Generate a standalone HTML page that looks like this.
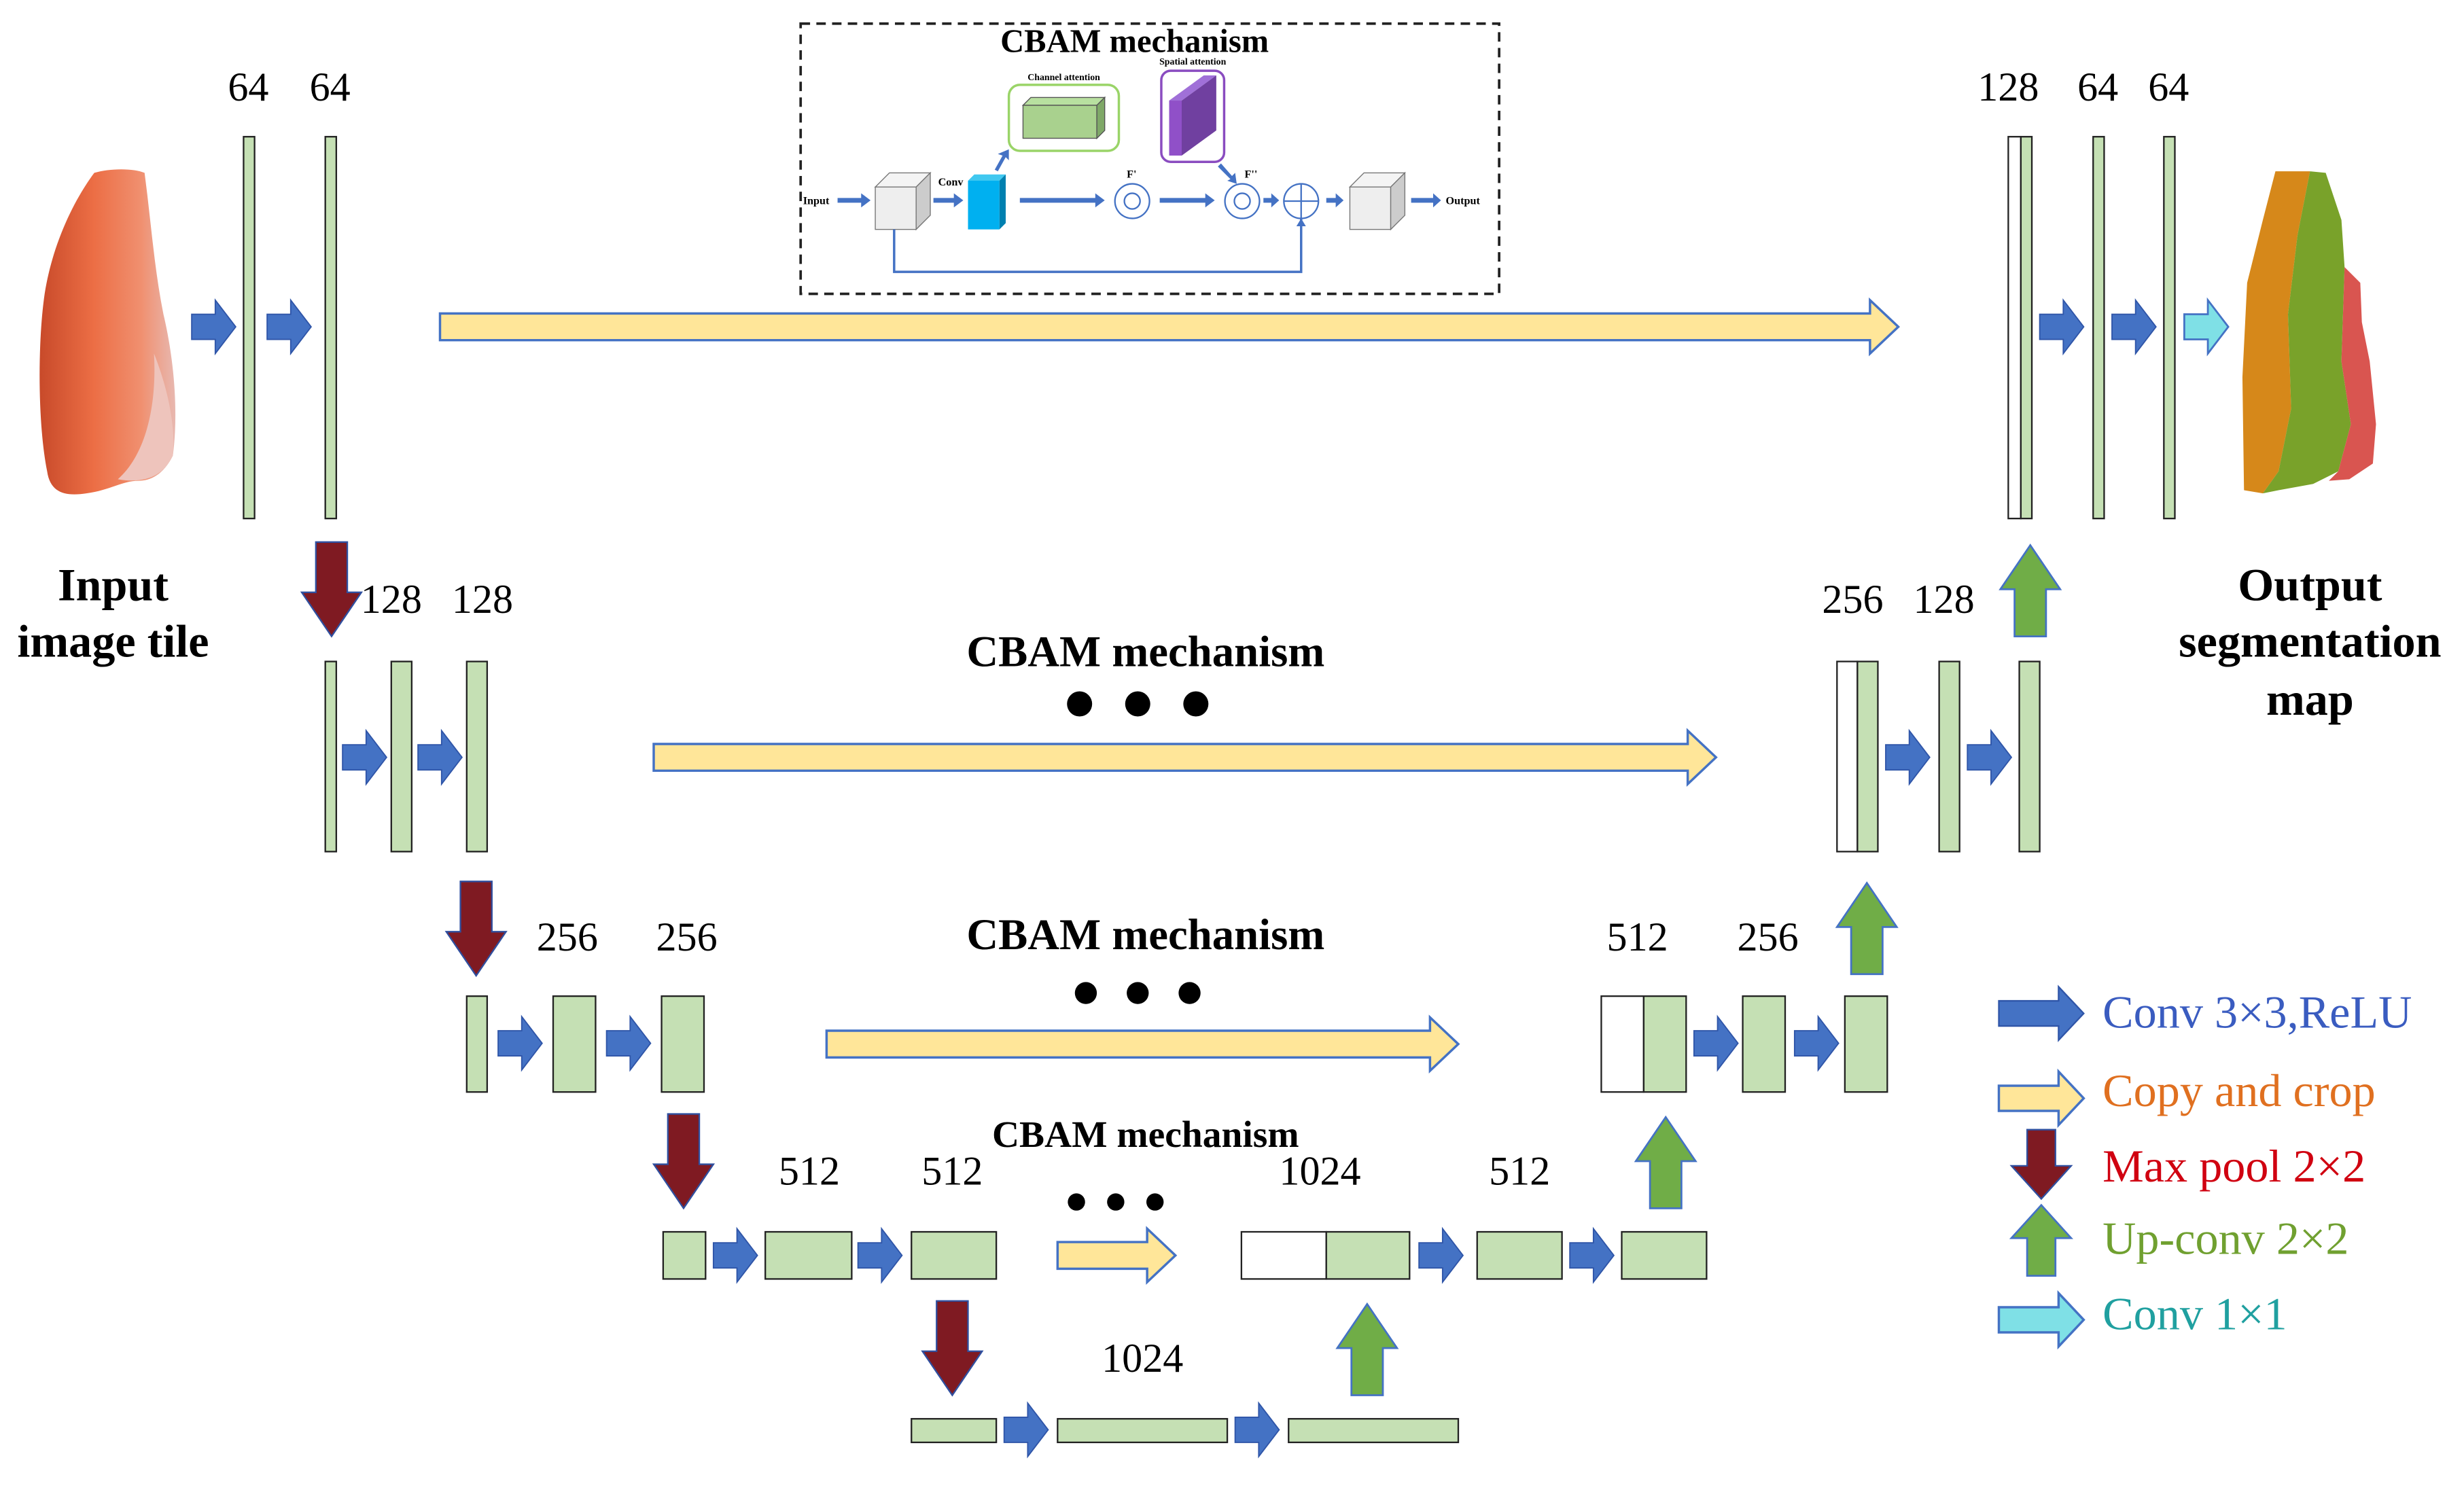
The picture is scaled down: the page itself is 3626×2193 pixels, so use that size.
<!DOCTYPE html>
<html><head><meta charset="utf-8"><style>
html,body{margin:0;padding:0;background:#fff;}
svg{display:block;}
text{font-family:"Liberation Serif",serif;}
</style></head><body>
<svg width="3626" height="2193" viewBox="0 0 1568 948.3" xmlns="http://www.w3.org/2000/svg">
<defs>
<path id="ba" d="M0,-8 H15 V-17 L28,0 L15,17 V8 H0Z" fill="#4472c4" stroke="#2f55a8" stroke-width="0.8"/>
<path id="ca" d="M0,-8 H15 V-17 L28,0 L15,17 V8 H0Z" fill="#7fe0e6" stroke="#4472c4" stroke-width="1.2"/>
<path id="da" d="M-10,0 V32 H-19 L0,60 L19,32 H10 V0Z" fill="#7f1a22" stroke="#2f4f9f" stroke-width="1"/>
<path id="ua" d="M-10,58 V28 H-19 L0,0 L19,28 H10 V58Z" fill="#70ad47" stroke="#4472c4" stroke-width="1.2"/>
<linearGradient id="salmon" x1="0" x2="1" y1="0" y2="0">
<stop offset="0" stop-color="#c84a2a"/><stop offset="0.4" stop-color="#ec6e45"/><stop offset="0.75" stop-color="#f09070"/><stop offset="1" stop-color="#e8b8b0"/>
</linearGradient>
</defs>
<g fill="#c5e0b4" stroke="#222" stroke-width="1">
<rect x="155" y="87" width="7" height="243"/><rect x="207" y="87" width="7" height="243"/>
<rect x="1278" y="87" width="8" height="243" fill="#fff"/><rect x="1286" y="87" width="7" height="243"/>
<rect x="1332" y="87" width="7" height="243"/><rect x="1377" y="87" width="7" height="243"/>
<rect x="207" y="421" width="7" height="121"/><rect x="249" y="421" width="13" height="121"/><rect x="297" y="421" width="13" height="121"/>
<rect x="1169" y="421" width="13" height="121" fill="#fff"/><rect x="1182" y="421" width="13" height="121"/>
<rect x="1234" y="421" width="13" height="121"/><rect x="1285" y="421" width="13" height="121"/>
<rect x="297" y="634" width="13" height="61"/><rect x="352" y="634" width="27" height="61"/><rect x="421" y="634" width="27" height="61"/>
<rect x="1019" y="634" width="27" height="61" fill="#fff"/><rect x="1046" y="634" width="27" height="61"/>
<rect x="1109" y="634" width="27" height="61"/><rect x="1174" y="634" width="27" height="61"/>
<rect x="422" y="784" width="27" height="30"/><rect x="487" y="784" width="55" height="30"/><rect x="580" y="784" width="54" height="30"/>
<rect x="790" y="784" width="54" height="30" fill="#fff"/><rect x="844" y="784" width="53" height="30"/>
<rect x="940" y="784" width="54" height="30"/><rect x="1032" y="784" width="54" height="30"/>
<rect x="580" y="903" width="54" height="15"/><rect x="673" y="903" width="108" height="15"/><rect x="820" y="903" width="108" height="15"/>
</g>
<use href="#ba" x="122" y="208"/><use href="#ba" x="170" y="208"/>
<use href="#ba" x="1298" y="208"/><use href="#ba" x="1344" y="208"/>
<use href="#ca" x="1390" y="208"/>
<use href="#ba" x="218" y="482"/><use href="#ba" x="266" y="482"/>
<use href="#ba" x="1200" y="482"/><use href="#ba" x="1252" y="482"/>
<use href="#ba" x="317" y="664"/><use href="#ba" x="386" y="664"/>
<use href="#ba" x="1078" y="664"/><use href="#ba" x="1142" y="664"/>
<use href="#ba" x="454" y="799"/><use href="#ba" x="546" y="799"/>
<use href="#ba" x="903" y="799"/><use href="#ba" x="999" y="799"/>
<use href="#ba" x="639" y="910"/><use href="#ba" x="786" y="910"/>
<use href="#da" x="211" y="345"/><use href="#da" x="303" y="561"/><use href="#da" x="435" y="709"/><use href="#da" x="606" y="828"/>
<use href="#ua" x="1292" y="347"/><use href="#ua" x="1188" y="562"/><use href="#ua" x="1060" y="711"/><use href="#ua" x="870" y="830"/>
<g fill="#ffe699" stroke="#4472c4" stroke-width="1.5">
<path d="M280,199.5 H1190 V191 L1208,208 L1190,225 V216.5 H280Z"/>
<path d="M416,473.5 H1074 V465 L1092,482 L1074,499 V490.5 H416Z"/>
<path d="M526,656 H910 V647.5 L928,664.5 L910,681.5 V673 H526Z"/>
<path d="M673,790.5 H730 V782 L748,799 L730,816 V807.5 H673Z"/>
</g>
<g font-size="26" text-anchor="middle" fill="#000">
<text x="158" y="64">64</text><text x="210" y="64">64</text>
<text x="1278" y="64">128</text><text x="1335" y="64">64</text><text x="1380" y="64">64</text>
<text x="249" y="390">128</text><text x="307" y="390">128</text>
<text x="1179" y="390">256</text><text x="1237" y="390">128</text>
<text x="361" y="605">256</text><text x="437" y="605">256</text>
<text x="1042" y="605">512</text><text x="1125" y="605">256</text>
<text x="515" y="754">512</text><text x="606" y="754">512</text>
<text x="840" y="754">1024</text><text x="967" y="754">512</text>
<text x="727" y="873">1024</text>
</g>
<g font-size="29.5" font-weight="bold" text-anchor="middle" fill="#000">
<text x="72" y="382">Input</text><text x="72" y="418">image tile</text>
<text x="1470" y="382">Output</text><text x="1470" y="418">segmentation</text><text x="1470" y="455">map</text>
<text x="729" y="424" font-size="28">CBAM mechanism</text>
<text x="729" y="604" font-size="28">CBAM mechanism</text>
<text x="729" y="730" font-size="24">CBAM mechanism</text>
</g>
<g fill="#000">
<circle cx="687" cy="448" r="8"/><circle cx="724" cy="448" r="8"/><circle cx="761" cy="448" r="8"/>
<circle cx="691" cy="632" r="7"/><circle cx="724" cy="632" r="7"/><circle cx="757" cy="632" r="7"/>
<circle cx="685" cy="765" r="5.5"/><circle cx="710" cy="765" r="5.5"/><circle cx="735" cy="765" r="5.5"/>
</g>
<path d="M1272,637 H1310 V628 L1326,645 L1310,662 V653 H1272Z" fill="#4472c4" stroke="#2f55a8"/>
<path d="M1272,691 H1310 V682 L1326,699 L1310,716 V707 H1272Z" fill="#ffe699" stroke="#4472c4" stroke-width="1.5"/>
<path d="M1290,719 V742 H1280 L1299,763 L1318,742 H1308 V719Z" fill="#7f1a22" stroke="#2f4f9f"/>
<path d="M1290,812 V788 H1280 L1299,767 L1318,788 H1308 V812Z" fill="#70ad47" stroke="#4472c4" stroke-width="1.2"/>
<path d="M1272,832 H1310 V823 L1326,840 L1310,857 V848 H1272Z" fill="#7fe0e6" stroke="#4472c4" stroke-width="1.5"/>
<g font-size="29.5">
<text x="1338" y="654" fill="#3a5cc0">Conv 3×3,ReLU</text>
<text x="1338" y="704" fill="#e07020">Copy and crop</text>
<text x="1338" y="752" fill="#d00010">Max pool 2×2</text>
<text x="1338" y="798" fill="#70a030">Up-conv 2×2</text>
<text x="1338" y="846" fill="#20a0a0">Conv 1×1</text>
</g>
<!-- input fish -->
<path d="M60,110 C70,107 85,107 92,110 C96,140 98,170 104,200 C110,225 114,260 110,290 C104,302 96,306 88,306 C78,306 70,312 55,314 C42,316 32,314 30,300 C24,270 24,220 28,190 C32,160 45,130 60,110Z" fill="url(#salmon)"/>
<path d="M75,305 C92,290 100,260 98,225 C106,245 112,270 110,290 C104,303 92,308 75,305Z" fill="#eec4bc"/>
<!-- output fish -->
<path d="M1448,109 L1470,109 L1462,150 L1456,200 L1458,260 L1450,300 L1440,314 L1428,312 L1427,240 L1430,180 L1440,140Z" fill="#d6881a"/>
<path d="M1470,109 L1480,110 L1490,140 L1492,170 L1490,230 L1496,270 L1488,300 L1472,308 L1450,312 L1440,314 L1450,300 L1458,260 L1456,200 L1462,150Z" fill="#79a22a"/>
<path d="M1492,170 L1502,180 L1503,205 L1508,230 L1512,270 L1510,295 L1495,305 L1482,306 L1488,300 L1496,270 L1490,230Z" fill="#d95550"/>
<!-- CBAM inset -->
<rect x="509.5" y="15" width="444.5" height="172" fill="none" stroke="#222" stroke-width="1.6" stroke-dasharray="6,4"/>
<text x="722" y="33" font-size="21" font-weight="bold" text-anchor="middle">CBAM mechanism</text>
<text x="677" y="51" font-size="6" font-weight="bold" text-anchor="middle">Channel attention</text>
<text x="759" y="41" font-size="6" font-weight="bold" text-anchor="middle">Spatial attention</text>
<rect x="642" y="54" width="70" height="42" rx="7" fill="none" stroke="#9ad468" stroke-width="1.5"/>
<rect x="739" y="45" width="40" height="58" rx="6" fill="none" stroke="#8a4cc0" stroke-width="1.5"/>
<polygon points="651,67 656,62 703,62 698,67" fill="#b8e0a0" stroke="#555" stroke-width="0.6"/>
<rect x="651" y="67" width="47" height="21" fill="#a9d18e" stroke="#555" stroke-width="0.6"/>
<polygon points="698,67 703,62 703,83 698,88" fill="#7fa868" stroke="#555" stroke-width="0.6"/>
<polygon points="744,64 766,48 774,48 752,64" fill="#a070d8"/>
<rect x="744" y="64" width="8" height="35" fill="#9050c8"/>
<polygon points="752,64 774,48 774,83 752,99" fill="#7040a0"/>
<g stroke="#777" stroke-width="0.6">
<polygon points="557,119 566,110 592,110 583,119" fill="#f4f4f4"/><rect x="557" y="119" width="26" height="27" fill="#eee"/><polygon points="583,119 592,110 592,137 583,146" fill="#ccc"/>
<polygon points="859,119 868,110 894,110 885,119" fill="#f4f4f4"/><rect x="859" y="119" width="26" height="27" fill="#eee"/><polygon points="885,119 894,110 894,137 885,146" fill="#ccc"/>
</g>
<polygon points="616,115 620,111 640,111 636,115" fill="#40c8f0"/>
<rect x="616" y="115" width="20" height="31" fill="#00b0f0"/>
<polygon points="636,115 640,111 640,142 636,146" fill="#0080b0"/>
<g fill="#4472c4">
<path d="M533,126 H548 V123 L554,127.5 L548,132 V129 H533Z"/>
<path d="M594,126 H607 V123 L613,127.5 L607,132 V129 H594Z"/>
<path d="M649,126 H697 V123 L703,127.5 L697,132 V129 H649Z"/>
<path d="M738,126 H767 V123 L773,127.5 L767,132 V129 H738Z"/>
<path d="M804,126 H809 V123 L814,127.5 L809,132 V129 H804Z"/>
<path d="M844,126 H850 V123 L855,127.5 L850,132 V129 H844Z"/>
<path d="M898,126 H912 V123 L917,127.5 L912,132 V129 H898Z"/>
<path d="M633,108 L638,99 L635,98 L642,95 L642,102 L640,100 L635,109Z"/>
<path d="M777,104 L784,112 L786,110 L787,117 L781,115 L783,114 L775,106Z"/>
</g>
<g fill="none" stroke="#4472c4" stroke-width="1">
<circle cx="720.5" cy="128" r="11"/><circle cx="720.5" cy="128" r="5"/>
<circle cx="790.5" cy="128" r="11"/><circle cx="790.5" cy="128" r="5"/>
<circle cx="828" cy="128" r="11"/><path d="M817,128 H839 M828,117 V139"/>
<path d="M569,146 V173 H828 V139" stroke-width="1.5"/>
</g>
<path d="M825,144 L828,139 L831,144Z" fill="#4472c4"/>
<g font-size="7" font-weight="bold">
<text x="511" y="130">Input</text><text x="597" y="118">Conv</text>
<text x="717" y="113">F'</text><text x="792" y="113">F''</text>
<text x="920" y="130">Output</text>
</g>
</svg>
</body></html>
